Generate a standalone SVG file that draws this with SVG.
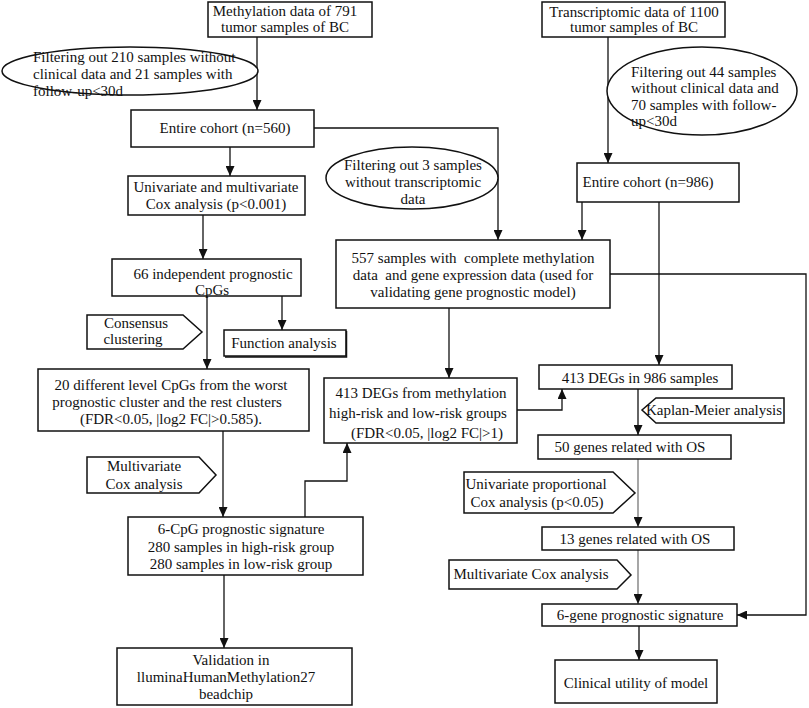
<svg xmlns="http://www.w3.org/2000/svg" width="809" height="708" viewBox="0 0 809 708">
<style>
text{font-family:"Liberation Serif","Times New Roman",serif;font-size:15px;fill:#111;white-space:pre}
.c{text-anchor:middle}
.b{fill:#fff;stroke:#111;stroke-width:1.5}
.l{fill:none;stroke:#111;stroke-width:1.3}
.g{stroke:#777}
</style>
<defs>
<marker id="ah" markerUnits="userSpaceOnUse" markerWidth="10" markerHeight="9" refX="10" refY="4.5" orient="auto">
<path d="M0,0 L10,4.5 L0,9 z" fill="#111"/>
</marker>
</defs>
<rect width="809" height="708" fill="#fff"/>
<g id="connectors">
<path class="l" d="M257,37 V110" marker-end="url(#ah)"/>
<path class="l" d="M230,147 V176" marker-end="url(#ah)"/>
<path class="l" d="M314,128 H498 V240" marker-end="url(#ah)"/>
<path class="l" d="M608,37 V163" marker-end="url(#ah)"/>
<path class="l" d="M582,202 V240" marker-end="url(#ah)"/>
<path class="l" d="M659,202 V365" marker-end="url(#ah)"/>
<path class="l" d="M203,215 V259" marker-end="url(#ah)"/>
<path class="l" d="M207,296 V369" marker-end="url(#ah)"/>
<path class="l" d="M282,296 V330" marker-end="url(#ah)"/>
<path class="l" d="M223,431 V517" marker-end="url(#ah)"/>
<path class="l" d="M224,575 V648" marker-end="url(#ah)"/>
<path class="l" d="M305,517 V481 H347 V443" marker-end="url(#ah)"/>
<path class="l" d="M449,308 V378" marker-end="url(#ah)"/>
<path class="l" d="M517,410 H562 V389" marker-end="url(#ah)"/>
<path class="l" d="M610,274 H806 V615 H737" marker-end="url(#ah)"/>
<path class="l" d="M638,389 V435" marker-end="url(#ah)"/>
<path class="l g" d="M638,459 V527" marker-end="url(#ah)"/>
<path class="l g" d="M638,550 V604" marker-end="url(#ah)"/>
<path class="l" d="M639,626 V660" marker-end="url(#ah)"/>
</g>
<g id="meth-data">
<rect class="b" x="208" y="2" width="164" height="35"/>
<text class="c" x="285" y="16">Methylation data of 791</text>
<text class="c" x="285" y="32">tumor samples of BC</text>
</g>
<g id="filter1">
<ellipse class="b" cx="130" cy="71" rx="128" ry="24"/>
<text x="33" y="62">Filtering out 210 samples without</text>
<text x="33" y="79">clinical data and 21 samples with</text>
<text x="33" y="96">follow-up&lt;30d</text>
</g>
<g id="cohort560">
<rect class="b" x="131" y="110" width="183" height="37"/>
<text class="c" x="225" y="133">Entire cohort (n=560)</text>
</g>
<g id="univariate">
<rect class="b" x="128" y="176" width="177" height="39"/>
<text class="c" x="216" y="192">Univariate and multivariate</text>
<text class="c" x="216" y="209">Cox analysis (p&lt;0.001)</text>
</g>
<g id="trans-data">
<rect class="b" x="542" y="2" width="183" height="35"/>
<text class="c" x="634" y="17">Transcriptomic data of 1100</text>
<text class="c" x="634" y="32">tumor samples of BC</text>
</g>
<g id="filter3">
<ellipse class="b" cx="702" cy="91" rx="95" ry="44"/>
<text x="631" y="77">Filtering out 44 samples</text>
<text x="631" y="93">without clinical data and</text>
<text x="631" y="110">70 samples with follow-</text>
<text x="631" y="126">up&lt;30d</text>
</g>
<g id="cohort986">
<rect class="b" x="577" y="163" width="162" height="39"/>
<text class="c" x="648" y="187">Entire cohort (n=986)</text>
</g>
<g id="filter2">
<ellipse class="b" cx="412" cy="178" rx="86" ry="31"/>
<text class="c" x="413" y="170">Filtering out 3 samples</text>
<text class="c" x="413" y="187">without transcriptomic</text>
<text class="c" x="413" y="204">data</text>
</g>
<g id="s557">
<rect class="b" x="336" y="240" width="274" height="68"/>
<text class="c" x="473" y="263">557 samples with  complete methylation</text>
<text class="c" x="473" y="280">data  and gene expression data (used for</text>
<text class="c" x="473" y="297">validating gene prognostic model)</text>
</g>
<g id="cpg66">
<rect class="b" x="112" y="259" width="189" height="37"/>
<text class="c" x="213" y="279">66 independent prognostic</text>
<text class="c" x="212" y="295">CpGs</text>
</g>
<g id="consensus">
<polygon class="b" points="87,315 183,315 202,332 183,349 87,349"/>
<text class="c" x="136" y="328">Consensus</text>
<text class="c" x="133" y="344">clustering</text>
</g>
<g id="function">
<rect class="b" x="224" y="330" width="122" height="26"/>
<path d="M346.5,331 V357 H225" fill="none" stroke="#111" stroke-width="1.5"/>
<text class="c" x="284" y="348">Function analysis</text>
</g>
<g id="cpg20">
<rect class="b" x="38" y="369" width="271" height="62"/>
<text class="c" x="171" y="390">20 different level CpGs from the worst</text>
<text class="c" x="167" y="407">prognostic cluster and the rest clusters</text>
<text class="c" x="171" y="424">(FDR&lt;0.05, |log2 FC|&gt;0.585).</text>
</g>
<g id="multicox1">
<polygon class="b" points="87,457 199,457 216,475 199,493 87,493"/>
<text class="c" x="144" y="471">Multivariate</text>
<text class="c" x="144" y="489">Cox analysis</text>
</g>
<g id="cpg6">
<rect class="b" x="128" y="517" width="235" height="58"/>
<text class="c" x="241" y="534">6-CpG prognostic signature</text>
<text class="c" x="241" y="552">280 samples in high-risk group</text>
<text class="c" x="241" y="569">280 samples in low-risk group</text>
</g>
<g id="validation">
<rect class="b" x="117" y="648" width="235" height="57"/>
<text class="c" x="231" y="665">Validation in</text>
<text class="c" x="226" y="682">lluminaHumanMethylation27</text>
<text class="c" x="226" y="699">beadchip</text>
</g>
<g id="deg413m">
<rect class="b" x="324" y="378" width="193" height="65"/>
<text class="c" x="421" y="398">413 DEGs from methylation</text>
<text class="c" x="418" y="418">high-risk and low-risk groups</text>
<text class="c" x="427" y="438">(FDR&lt;0.05, |log2 FC|&gt;1)</text>
</g>
<g id="deg413">
<rect class="b" x="539" y="365" width="193" height="24"/>
<text class="c" x="640" y="383">413 DEGs in 986 samples</text>
</g>
<g id="km">
<polygon class="b" points="656,398 784,398 784,423 656,423 642,410"/>
<text class="c" x="714" y="415">Kaplan-Meier analysis</text>
</g>
<g id="genes50">
<rect class="b" x="538" y="435" width="193" height="24"/>
<text class="c" x="630" y="452">50 genes related with OS</text>
</g>
<g id="unicox">
<polygon class="b" points="464,472 613,472 635,493 613,513 464,513"/>
<text class="c" x="536" y="489">Univariate proportional</text>
<text class="c" x="537" y="507">Cox analysis (p&lt;0.05)</text>
</g>
<g id="genes13">
<rect class="b" x="542" y="527" width="192" height="23"/>
<text class="c" x="635" y="544">13 genes related with OS</text>
</g>
<g id="multicox2">
<polygon class="b" points="449,560 617,560 631,575 617,589 449,589"/>
<text class="c" x="531" y="579">Multivariate Cox analysis</text>
</g>
<g id="gene6">
<rect class="b" x="542" y="604" width="195" height="22"/>
<text class="c" x="640" y="620">6-gene prognostic signature</text>
</g>
<g id="clinical">
<rect class="b" x="555" y="660" width="162" height="43"/>
<text class="c" x="636" y="688">Clinical utility of model</text>
</g>
</svg>
